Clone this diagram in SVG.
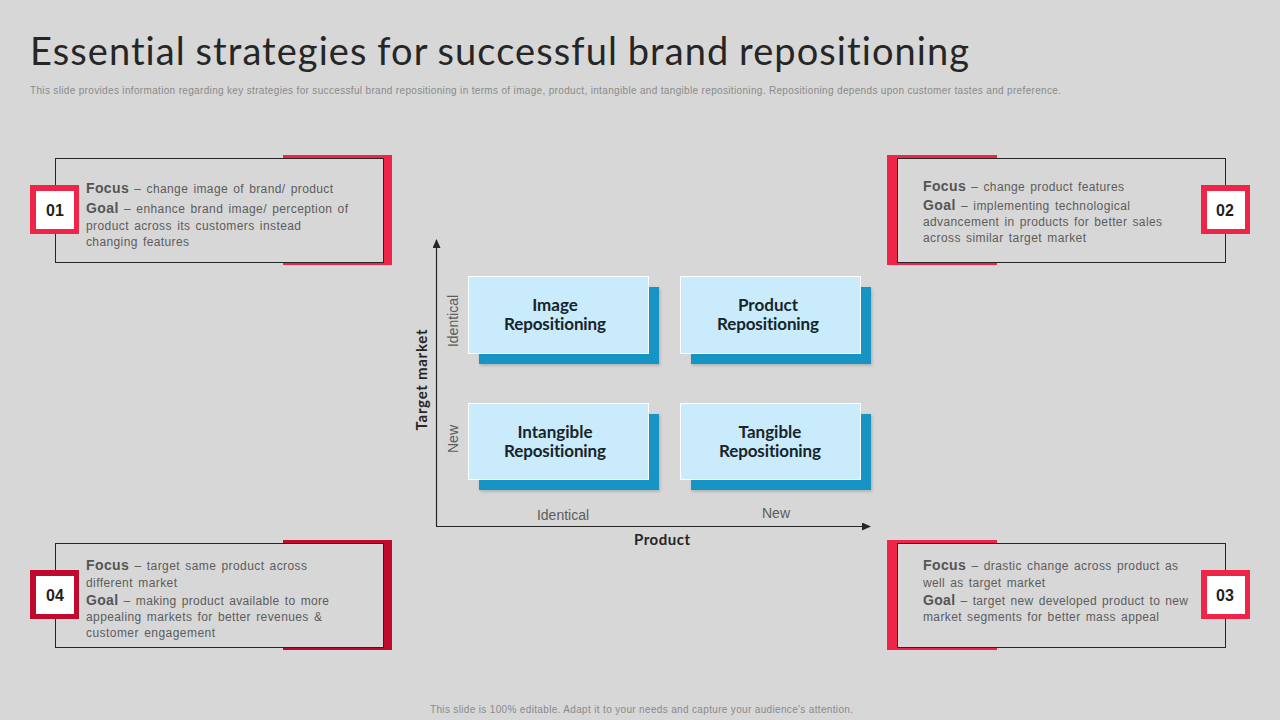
<svg xmlns="http://www.w3.org/2000/svg" width="1280" height="720" viewBox="0 0 1280 720">
<style>
text{font-variant-ligatures:none}
.ar{font-family:"Liberation Sans",Arial,sans-serif}
.b{font-family:"Liberation Sans",Arial,sans-serif;font-size:12px;fill:#5c5c5c;word-spacing:1.5px}
.k{font-weight:700;font-size:14px;fill:#555}
.n{font-family:"Liberation Sans",Arial,sans-serif;font-size:16px;font-weight:700;fill:#1f1f1f;text-anchor:middle}
.frame{fill:none;stroke:#262626;stroke-width:1}
.lab{font-family:Lato,"Open Sans",sans-serif;font-size:17px;font-weight:700;fill:#17252b;text-anchor:middle}
.ax{font-family:"Liberation Sans",Arial,sans-serif;font-size:14px;fill:#5c5c5c;text-anchor:middle}
.axb{font-family:Lato,sans-serif;font-size:15px;font-weight:700;fill:#262626;text-anchor:middle}
.back{fill:#1594c3}
.front{fill:#c9ebfb;stroke:#fff;stroke-width:1}
</style>
<defs>
<marker id="arrow" markerWidth="10" markerHeight="8" refX="8" refY="4" orient="auto" markerUnits="userSpaceOnUse"><path d="M0 0L9 4L0 8Z" fill="#262626"/></marker>
<filter id="sh" x="-5%" y="-5%" width="112%" height="115%"><feDropShadow dx="1" dy="1.5" stdDeviation="1.5" flood-color="#000" flood-opacity=".2"/></filter>
</defs>
<rect width="1280" height="720" fill="#d7d7d7"/>
<text id="title" x="30" y="65" font-family="Lato,'Open Sans',sans-serif" font-size="38" font-weight="400" word-spacing="-1" fill="#262626" textLength="939">Essential strategies for successful brand repositioning</text>
<text id="subtitle" class="ar" x="30" y="94" font-size="10" fill="#8a8a8a" textLength="1031">This slide provides information regarding key strategies for successful brand repositioning in terms of image, product, intangible and tangible repositioning. Repositioning depends upon customer tastes and preference.</text>

<g id="node-01">
<path d="M283 155H392V265H283V262H384V158H283Z" fill="#ee2449"/>
<rect class="frame" x="55.500" y="158.500" width="328" height="104"/>
<rect x="30" y="185" width="49" height="49" fill="#ee2449"/><rect x="36" y="191" width="38" height="38" fill="#fff"/>
<text class="n" x="55" y="216">01</text>
<text class="b" x="86" y="193" textLength="247"><tspan class="k">Focus</tspan> – change image of brand/ product</text>
<text class="b" x="86" y="213" textLength="262"><tspan class="k">Goal</tspan> – enhance brand image/ perception of</text>
<text class="b" x="86" y="230" textLength="215">product across its customers instead</text>
<text class="b" x="86" y="246" textLength="103">changing features</text>
</g>
<g id="node-02">
<path d="M997 155H887V265H997V262H898V158H997Z" fill="#ee2449"/>
<rect class="frame" x="897.500" y="158.500" width="328" height="104"/>
<rect x="1201" y="185" width="49" height="49" fill="#ee2449"/><rect x="1207" y="191" width="38" height="38" fill="#fff"/>
<text class="n" x="1225" y="216">02</text>
<text class="b" x="923" y="191" textLength="201"><tspan class="k">Focus</tspan> – change product features</text>
<text class="b" x="923" y="210" textLength="207"><tspan class="k">Goal</tspan> – implementing technological</text>
<text class="b" x="923" y="226" textLength="239">advancement in products for better sales</text>
<text class="b" x="923" y="242" textLength="163">across similar target market</text>
</g>
<g id="node-03">
<path d="M997 540H887V650H997V647H898V543H997Z" fill="#ee2449"/>
<rect class="frame" x="897.500" y="543.500" width="328" height="104"/>
<rect x="1201" y="570" width="49" height="49" fill="#ee2449"/><rect x="1207" y="576" width="38" height="38" fill="#fff"/>
<text class="n" x="1225" y="601">03</text>
<text class="b" x="923" y="570" textLength="255"><tspan class="k">Focus</tspan> – drastic change across product as</text>
<text class="b" x="923" y="587" textLength="122">well as target market</text>
<text class="b" x="923" y="605" textLength="265"><tspan class="k">Goal</tspan> – target new developed product to new</text>
<text class="b" x="923" y="621" textLength="236">market segments for better mass appeal</text>
</g>
<g id="node-04">
<path d="M283 540H392V650H283V647H384V543H283Z" fill="#bf0a2e"/>
<rect class="frame" x="55.500" y="543.500" width="328" height="104"/>
<rect x="30" y="570" width="49" height="49" fill="#bf0a2e"/><rect x="36" y="576" width="38" height="38" fill="#fff"/>
<text class="n" x="55" y="601">04</text>
<text class="b" x="86" y="570" textLength="221"><tspan class="k">Focus</tspan> – target same product across</text>
<text class="b" x="86" y="587" textLength="91">different market</text>
<text class="b" x="86" y="605" textLength="243"><tspan class="k">Goal</tspan> – making product available to more</text>
<text class="b" x="86" y="621" textLength="236">appealing markets for better revenues &amp;</text>
<text class="b" x="86" y="637" textLength="129">customer engagement</text>
</g>

<g id="connectors">
<path d="M436.500 526.500V240" fill="none" stroke="#262626" stroke-width="1.200" marker-end="url(#arrow)"/>
<path d="M436 526.500H870" fill="none" stroke="#262626" stroke-width="1.200" marker-end="url(#arrow)"/>
</g>

<g id="image-repositioning"><rect class="back" x="479" y="287" width="180" height="77" filter="url(#sh)"/><rect class="front" x="468.500" y="276.500" width="180" height="77"/><text class="lab" x="555" y="311">Image</text><text class="lab" x="555" y="330" textLength="102">Repositioning</text></g>
<g id="product-repositioning"><rect class="back" x="691" y="287" width="180" height="77" filter="url(#sh)"/><rect class="front" x="680.500" y="276.500" width="180" height="77"/><text class="lab" x="768" y="311">Product</text><text class="lab" x="768" y="330" textLength="102">Repositioning</text></g>
<g id="intangible-repositioning"><rect class="back" x="479" y="414" width="180" height="76" filter="url(#sh)"/><rect class="front" x="468.500" y="403.500" width="180" height="76"/><text class="lab" x="555" y="438">Intangible</text><text class="lab" x="555" y="457" textLength="102">Repositioning</text></g>
<g id="tangible-repositioning"><rect class="back" x="691" y="414" width="180" height="76" filter="url(#sh)"/><rect class="front" x="680.500" y="403.500" width="180" height="76"/><text class="lab" x="770" y="438">Tangible</text><text class="lab" x="770" y="457" textLength="102">Repositioning</text></g>

<g id="axis-labels">
<text class="axb" transform="translate(427 380) rotate(-90)" textLength="101">Target market</text>
<text class="ax" transform="translate(458 321) rotate(-90)">Identical</text>
<text class="ax" transform="translate(458 439) rotate(-90)">New</text>
<text class="ax" x="563" y="520">Identical</text>
<text class="ax" x="776" y="518">New</text>
<text class="axb" x="662" y="545" textLength="56">Product</text>
</g>
<text id="footer" class="ar" x="430" y="713" font-size="10" fill="#8a8a8a" textLength="423">This slide is 100% editable. Adapt it to your needs and capture your audience's attention.</text>
</svg>
